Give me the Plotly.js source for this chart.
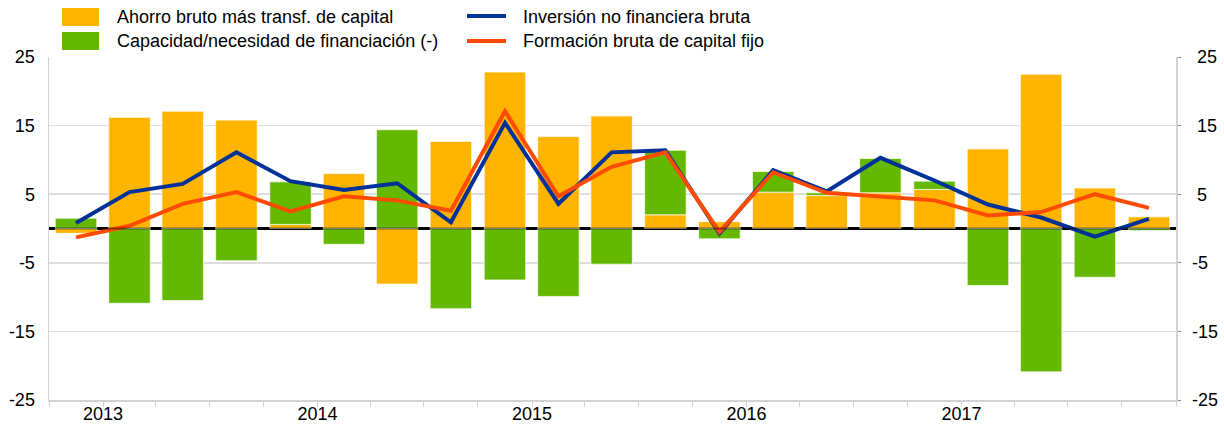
<!DOCTYPE html>
<html>
<head>
<meta charset="utf-8">
<script src="https://cdn.plot.ly/plotly-3.0.1.min.js"></script>
<style>
  html, body { margin: 0; padding: 0; background: #ffffff; }
  #chart { width: 1224px; height: 425px; }
</style>
</head>
<body>
<div id="chart"></div>
<script>
// Quarter start dates: 2012 Q4 ... 2017 Q4
var quarters = [
  '2012-10-01',
  '2013-01-01','2013-04-01','2013-07-01','2013-10-01',
  '2014-01-01','2014-04-01','2014-07-01','2014-10-01',
  '2015-01-01','2015-04-01','2015-07-01','2015-10-01',
  '2016-01-01','2016-04-01','2016-07-01','2016-10-01',
  '2017-01-01','2017-04-01','2017-07-01','2017-10-01'
];

// Ahorro bruto más transf. de capital
var ahorro = [-0.7, 16.2, 17.1, 15.8, 0.6, 8.0, -8.1, 12.7, 22.8, 13.4, 16.4,
              2.0, 1.0, 5.3, 4.8, 5.2, 5.7, 11.6, 22.5, 5.9, 1.7];
// Capacidad/necesidad de financiación (-)
var capacidad = [1.5, -10.9, -10.5, -4.7, 6.2, -2.3, 14.4, -11.7, -7.5, -9.9, -5.2,
                 9.4, -1.5, 3.0, 0.4, 5.0, 1.2, -8.3, -20.9, -7.1, -0.3];
// Inversión no financiera bruta
var inversion = [0.8, 5.3, 6.5, 11.1, 6.9, 5.6, 6.6, 0.9, 15.4, 3.6, 11.1,
                 11.4, -0.7, 8.5, 5.4, 10.3, 7.0, 3.5, 1.6, -1.2, 1.4];
// Formación bruta de capital fijo
var formacion = [-1.3, 0.4, 3.6, 5.3, 2.5, 4.7, 4.1, 2.6, 17.1, 4.7, 9.0,
                 11.1, -0.5, 8.2, 5.2, 4.7, 4.1, 1.9, 2.4, 5.0, 3.0];

var seriesNames = [
  'Ahorro bruto más transf. de capital',
  'Capacidad/necesidad de financiación (-)',
  'Inversión no financiera bruta',
  'Formación bruta de capital fijo'
];

var yearTickVals = ['2013-01-01', '2014-01-01', '2015-01-01', '2016-01-01', '2017-01-01'];
var yearTickText = ['2013', '2014', '2015', '2016', '2017'];

var yTickVals = [-25, -15, -5, 5, 15, 25];
var yTickText = ['-25', '-15', '-5', '5', '15', '25'];

var C_ORANGE = '#FFB400', C_GREEN = '#65B800', C_BLUE = '#003299', C_RED = '#FF4B00';
var FONT = 'Liberation Sans, Arial, Helvetica, sans-serif';

var W = 1224, H = 425, ML = 49, MR = 48, MT = 57, MB = 25;
var PW = W - ML - MR, PH = H - MT - MB;
function px(x) { return (x - ML) / PW; }
function py(y) { return (H - MB - y) / PH; }

var traces = [
  { type: 'bar', name: seriesNames[0], x: quarters, y: ahorro,
    xperiod: 'M3', xperiodalignment: 'middle',
    marker: { color: C_ORANGE, line: { color: 'rgba(255,255,255,0.7)', width: 1 } },
    showlegend: false, hoverinfo: 'skip' },
  { type: 'bar', name: seriesNames[1], x: quarters, y: capacidad,
    xperiod: 'M3', xperiodalignment: 'middle',
    marker: { color: C_GREEN, line: { color: 'rgba(255,255,255,0.7)', width: 1 } },
    showlegend: false, hoverinfo: 'skip' },
  { type: 'scatter', mode: 'lines', name: seriesNames[2], x: quarters, y: inversion,
    xperiod: 'M3', xperiodalignment: 'middle',
    line: { color: C_BLUE, width: 4 }, showlegend: false, hoverinfo: 'skip' },
  { type: 'scatter', mode: 'lines', name: seriesNames[3], x: quarters, y: formacion,
    xperiod: 'M3', xperiodalignment: 'middle', yaxis: 'y2',
    line: { color: C_RED, width: 4 }, showlegend: false, hoverinfo: 'skip' }
];

var tickFont = { family: FONT, size: 18, color: '#000000' };

var shapes = [
  // zero line overlay
  { type: 'line', xref: 'paper', yref: 'y', x0: 0, x1: 1, y0: 0, y1: 0,
    line: { color: 'rgba(0,0,0,0.45)', width: 2 }, layer: 'above' },
  // legend swatches
  { type: 'rect', xref: 'paper', yref: 'paper', x0: px(62), x1: px(99), y0: py(26), y1: py(8),
    fillcolor: C_ORANGE, line: { width: 0 } },
  { type: 'rect', xref: 'paper', yref: 'paper', x0: px(62), x1: px(99), y0: py(50), y1: py(32),
    fillcolor: C_GREEN, line: { width: 0 } },
  { type: 'line', xref: 'paper', yref: 'paper', x0: px(467), x1: px(506), y0: py(16), y1: py(16),
    line: { color: C_BLUE, width: 4 } },
  { type: 'line', xref: 'paper', yref: 'paper', x0: px(467), x1: px(506), y0: py(41), y1: py(41),
    line: { color: C_RED, width: 4 } }
];

function legendText(txt, x, y) {
  return { xref: 'paper', yref: 'paper', x: px(x), y: py(y), xanchor: 'left', yanchor: 'middle',
           text: txt, showarrow: false, font: { family: FONT, size: 18, color: '#000000' },
           borderpad: 0 };
}

var annotations = [
  legendText(seriesNames[0], 116, 17),
  legendText(seriesNames[1], 116, 41),
  legendText(seriesNames[2], 522, 17),
  legendText(seriesNames[3], 522, 41)
];

var layout = {
  width: W, height: H,
  margin: { l: ML, r: MR, t: MT, b: MB, pad: 0 },
  paper_bgcolor: '#ffffff', plot_bgcolor: '#ffffff',
  barmode: 'relative', bargap: 0.22,
  showlegend: false,
  font: { family: FONT, size: 18, color: '#000000' },
  xaxis: {
    type: 'date', range: ['2012-10-01', '2018-01-01'],
    tickmode: 'array', tickvals: yearTickVals, ticktext: yearTickText,
    ticks: 'outside', ticklen: 5, tickcolor: '#d3d3d3', tickwidth: 1,
    minor: { dtick: 'M3', tick0: '2013-01-01', ticks: 'outside', ticklen: 5, tickcolor: '#d3d3d3', tickwidth: 1 },
    showgrid: false, showline: true, linecolor: '#d3d3d3', linewidth: 1.5,
    tickfont: tickFont, ticklabelstandoff: -8, zeroline: false, fixedrange: true
  },
  yaxis: {
    range: [-25, 25], tickvals: yTickVals, ticktext: yTickText,
    showgrid: true, gridcolor: '#dedede', gridwidth: 1.5,
    showline: true, linecolor: '#d3d3d3', linewidth: 1.5,
    zeroline: true, zerolinecolor: '#000000', zerolinewidth: 2.5,
    ticks: '', tickfont: tickFont, ticklabelstandoff: 9, fixedrange: true
  },
  yaxis2: {
    overlaying: 'y', side: 'right', matches: 'y', range: [-25, 25],
    tickvals: yTickVals, ticktext: yTickText.map(function (t) { return t.charAt(0) === '-' ? t : '\u00a0' + t; }),
    showgrid: false, zeroline: false,
    showline: true, linecolor: '#d3d3d3', linewidth: 1.5,
    ticks: 'outside', ticklen: 3, tickcolor: '#8c8c8c', tickwidth: 1,
    tickfont: tickFont, ticklabelstandoff: 8, fixedrange: true
  },
  shapes: shapes,
  annotations: annotations
};

Plotly.newPlot('chart', traces, layout, { displayModeBar: false, staticPlot: true });
</script>
</body>
</html>
